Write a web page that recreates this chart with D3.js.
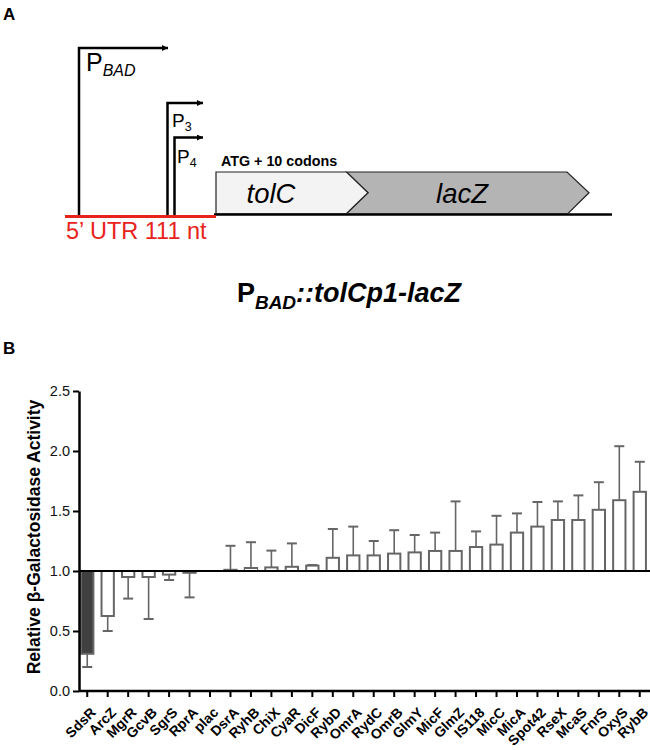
<!DOCTYPE html>
<html>
<head>
<meta charset="utf-8">
<script src="https://cdn.jsdelivr.net/npm/d3@7"></script>
<style>
  html, body { margin: 0; padding: 0; background: #fff; }
  svg { display: block; font-family: "Liberation Sans", Arial, sans-serif; }
</style>
</head>
<body>
<svg id="chart" width="650" height="750"></svg>
<script>
// ---- Data ----
const categories = ["SdsR","ArcZ","MgrR","GcvB","SgrS","RprA","plac","DsrA","RyhB","ChiX","CyaR","DicF","RybD","OmrA","RydC","OmrB","GlmY","MicF","GlmZ","IS118","MicC","MicA","Spot42","RseX","McaS","FnrS","OxyS","RybB"];
const values = [0.31,0.625,0.95,0.95,0.97,0.985,1.0,1.01,1.025,1.03,1.035,1.045,1.11,1.13,1.13,1.145,1.155,1.167,1.167,1.20,1.22,1.32,1.37,1.425,1.425,1.51,1.59,1.66];
const errorEnds = [0.20,0.50,0.77,0.60,0.925,0.78,1.0,1.21,1.24,1.17,1.23,1.05,1.35,1.37,1.25,1.34,1.30,1.32,1.58,1.33,1.46,1.48,1.575,1.58,1.63,1.74,2.04,1.91];
const highlighted = ["SdsR"];
const yTicks = [0, 0.5, 1.0, 1.5, 2.0, 2.5];
const baselineValue = 1.0;

const svg = d3.select("#chart");

// ---- Panel A: construct diagram ----
const A = svg.append("g");
A.append("text").attr("x", 3).attr("y", 20).attr("font-size", 17).attr("font-weight", "bold").text("A");

svg.append("defs").append("marker")
  .attr("id", "arr").attr("viewBox", "0 0 10 10").attr("refX", 10).attr("refY", 5)
  .attr("markerWidth", 10).attr("markerHeight", 6).attr("markerUnits", "userSpaceOnUse")
  .attr("orient", "auto")
  .append("path").attr("d", "M0,0 L10,5 L0,10 Z").attr("fill", "#000");

const baseY = 216;
// black DNA line
A.append("line").attr("x1", 214).attr("x2", 612).attr("y1", 214.5).attr("y2", 214.5)
  .attr("stroke", "#000").attr("stroke-width", 2.5);
// promoters
function promoter(x, top, xEnd) {
  A.append("path").attr("d", `M${x},${baseY} V${top} H${xEnd}`)
    .attr("fill", "none").attr("stroke", "#000").attr("stroke-width", 2.5)
    .attr("marker-end", "url(#arr)");
}
promoter(79, 48, 168);
promoter(167.5, 103, 203);
promoter(174.5, 137.5, 203);
// red 5' UTR line
A.append("line").attr("x1", 65).attr("x2", 216).attr("y1", 216.5).attr("y2", 216.5)
  .attr("stroke", "#e8231b").attr("stroke-width", 3);
A.append("text").attr("x", 66).attr("y", 239).attr("font-size", 23.5).attr("fill", "#e8231b")
  .text("5\u2019 UTR 111 nt");

// promoter labels
const pb = A.append("text").attr("x", 86).attr("y", 71).attr("font-size", 25);
pb.append("tspan").text("P");
pb.append("tspan").attr("font-size", 16).attr("font-style", "italic").attr("dy", 5).text("BAD");
const p3 = A.append("text").attr("x", 172).attr("y", 127).attr("font-size", 19);
p3.append("tspan").text("P");
p3.append("tspan").attr("font-size", 12.5).attr("dy", 4).text("3");
const p4 = A.append("text").attr("x", 177).attr("y", 163).attr("font-size", 19);
p4.append("tspan").text("P");
p4.append("tspan").attr("font-size", 12.5).attr("dy", 4).text("4");

// genes
const gTop = 172, gBot = 213.5, gMid = 192.7;
A.append("path").attr("d", `M589,${gMid} L568,${gBot} H346.5 L368,${gMid} L346.5,${gTop} H567 Z`)
  .attr("fill", "#b4b4b4").attr("stroke", "#222").attr("stroke-width", 1.2);
A.append("path").attr("d", `M216,${gTop} H346.5 L368,${gMid} L346.5,${gBot} H216 Z`)
  .attr("fill", "#f3f3f3").attr("stroke", "#222").attr("stroke-width", 1.2);
A.append("text").attr("x", 271).attr("y", 203).attr("text-anchor", "middle").attr("font-size", 27.5)
  .attr("font-style", "italic").text("tolC");
A.append("text").attr("x", 462).attr("y", 203).attr("text-anchor", "middle").attr("font-size", 27.5)
  .attr("font-style", "italic").text("lacZ");
A.append("text").attr("x", 221).attr("y", 166).attr("font-size", 14.3).attr("font-weight", "bold")
  .text("ATG + 10 codons");

// construct title
const tt = A.append("text").attr("x", 349).attr("y", 302).attr("text-anchor", "middle")
  .attr("font-size", 27).attr("font-weight", "bold");
tt.append("tspan").text("P");
tt.append("tspan").attr("font-size", 19).attr("font-style", "italic").attr("dy", 7).text("BAD");
tt.append("tspan").attr("font-style", "italic").attr("dy", -7).text("::tolCp1-lacZ");

// ---- Panel B: bar chart ----
svg.append("text").attr("x", 3).attr("y", 354).attr("font-size", 17).attr("font-weight", "bold").text("B");

const x = d3.scaleBand().domain(categories).range([77, 650]).paddingInner(0.3).paddingOuter(0.15);
const y = d3.scaleLinear().domain([0, 2.5]).range([691, 391]);
const B = svg.append("g");
const barColor = "#666";

// error bars
const eb = B.append("g").selectAll("g").data(categories).join("g");
eb.each(function(c, i) {
  const v = values[i], e = errorEnds[i];
  if (Math.abs(e - v) < 0.005) return;
  const cx = x(c) + x.bandwidth() / 2;
  const g = d3.select(this);
  g.append("line").attr("x1", cx).attr("x2", cx).attr("y1", y(v)).attr("y2", y(e))
    .attr("stroke", barColor).attr("stroke-width", 1.6);
  g.append("line").attr("x1", cx - 5).attr("x2", cx + 5).attr("y1", y(e)).attr("y2", y(e))
    .attr("stroke", barColor).attr("stroke-width", 2);
});

// bars (from baseline 1.0)
B.append("g").selectAll("rect").data(categories).join("rect")
  .attr("x", c => x(c) + 1)
  .attr("width", x.bandwidth() - 2)
  .attr("y", (c, i) => y(Math.max(values[i], baselineValue)))
  .attr("height", (c, i) => Math.abs(y(values[i]) - y(baselineValue)))
  .attr("fill", c => highlighted.includes(c) ? "#404040" : "#fff")
  .attr("stroke", (c, i) => Math.abs(values[i] - baselineValue) < 0.001 ? "none" : barColor)
  .attr("stroke-width", 2);

// baseline at 1.0
B.append("line").attr("x1", 79).attr("x2", 650).attr("y1", y(baselineValue)).attr("y2", y(baselineValue))
  .attr("stroke", "#000").attr("stroke-width", 2.2);

// y axis
const yAxis = B.append("g").attr("transform", "translate(79,0)")
  .call(d3.axisLeft(y).tickValues(yTicks).tickFormat(d3.format(".1f")).tickSize(6).tickSizeOuter(0));
yAxis.select(".domain").attr("stroke-width", 2.5);
yAxis.selectAll(".tick line").attr("stroke-width", 2);
yAxis.selectAll("text").attr("font-size", 14.5).attr("fill", "#111").attr("font-family", "Liberation Sans, Arial, sans-serif");

// x axis
const xAxis = B.append("g").attr("transform", "translate(0,691)")
  .call(d3.axisBottom(x).tickSize(6).tickSizeOuter(0));
xAxis.select(".domain").attr("d", "M79,0H650").attr("stroke-width", 2.5);
xAxis.selectAll(".tick line").attr("stroke-width", 2);
xAxis.selectAll("text")
  .attr("font-size", 14).attr("font-weight", "bold").attr("fill", "#000")
  .attr("font-family", "Liberation Sans, Arial, sans-serif")
  .attr("text-anchor", "end")
  .attr("dx", 0).attr("dy", 0)
  .attr("transform", "translate(3,16) rotate(-45)");

// y label
B.append("text").attr("transform", "translate(40,537) rotate(-90)")
  .attr("text-anchor", "middle").attr("font-size", 17.5).attr("font-weight", "bold")
  .text("Relative \u03b2-Galactosidase Activity");
</script>
</body>
</html>
